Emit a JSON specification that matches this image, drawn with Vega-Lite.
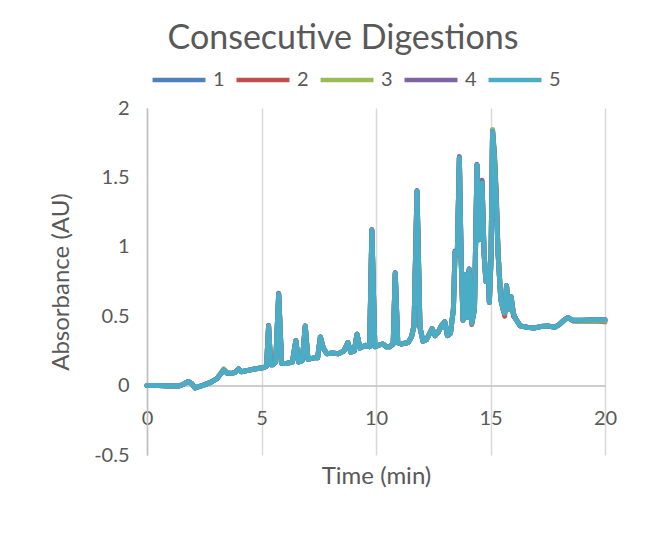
{
  "$schema": "https://vega.github.io/schema/vega-lite/v6.json",
  "width": 458,
  "height": 347,
  "autosize": "none",
  "padding": {"left": 147, "top": 108, "right": 42, "bottom": 81},
  "background": "white",
  "title": {
    "text": "Consecutive Digestions",
    "fontSize": 34,
    "fontWeight": "normal",
    "color": "#595959",
    "baseline": "alphabetic",
    "dx": -33,
    "dy": 52,
    "offset": 20
  },
  "data": {
    "values": [
      {"t": 0, "1": 0, "2": 0, "3": 0, "4": 0, "5": 0},
      {"t": 0.5, "1": 0, "2": 0, "3": 0, "4": 0, "5": 0},
      {"t": 1.0, "1": -0.002, "2": -0.002, "3": -0.002, "4": -0.002, "5": -0.002},
      {"t": 1.4, "1": -0.003, "2": -0.003, "3": -0.003, "4": -0.003, "5": -0.003},
      {"t": 1.6, "1": 0.01, "2": 0.01, "3": 0.01, "4": 0.01, "5": 0.01},
      {"t": 1.8, "1": 0.03, "2": 0.03, "3": 0.03, "4": 0.03, "5": 0.03},
      {"t": 1.95, "1": 0.015, "2": 0.015, "3": 0.015, "4": 0.015, "5": 0.015},
      {"t": 2.1, "1": -0.017, "2": -0.017, "3": -0.017, "4": -0.017, "5": -0.017},
      {"t": 2.3, "1": -0.005, "2": -0.005, "3": -0.005, "4": -0.005, "5": -0.005},
      {"t": 2.5, "1": 0.005, "2": 0.005, "3": 0.005, "4": 0.005, "5": 0.005},
      {"t": 2.8, "1": 0.025, "2": 0.025, "3": 0.025, "4": 0.025, "5": 0.025},
      {"t": 3.05, "1": 0.05, "2": 0.05, "3": 0.05, "4": 0.05, "5": 0.05},
      {"t": 3.2, "1": 0.08, "2": 0.08, "3": 0.085, "4": 0.08, "5": 0.08},
      {"t": 3.35, "1": 0.113, "2": 0.113, "3": 0.12, "4": 0.113, "5": 0.113},
      {"t": 3.5, "1": 0.09, "2": 0.09, "3": 0.092, "4": 0.09, "5": 0.09},
      {"t": 3.7, "1": 0.088, "2": 0.088, "3": 0.088, "4": 0.088, "5": 0.088},
      {"t": 3.85, "1": 0.095, "2": 0.095, "3": 0.095, "4": 0.095, "5": 0.095},
      {"t": 4.0, "1": 0.12, "2": 0.12, "3": 0.12, "4": 0.12, "5": 0.12},
      {"t": 4.12, "1": 0.1, "2": 0.1, "3": 0.1, "4": 0.1, "5": 0.1},
      {"t": 4.4, "1": 0.11, "2": 0.11, "3": 0.11, "4": 0.11, "5": 0.11},
      {"t": 4.7, "1": 0.12, "2": 0.12, "3": 0.12, "4": 0.12, "5": 0.12},
      {"t": 5.1, "1": 0.13, "2": 0.13, "3": 0.13, "4": 0.13, "5": 0.13},
      {"t": 5.22, "1": 0.14, "2": 0.14, "3": 0.14, "4": 0.14, "5": 0.14},
      {"t": 5.31, "1": 0.43, "2": 0.43, "3": 0.43, "4": 0.435, "5": 0.43},
      {"t": 5.4, "1": 0.15, "2": 0.15, "3": 0.15, "4": 0.15, "5": 0.15},
      {"t": 5.5, "1": 0.15, "2": 0.15, "3": 0.15, "4": 0.15, "5": 0.15},
      {"t": 5.62, "1": 0.17, "2": 0.17, "3": 0.17, "4": 0.17, "5": 0.17},
      {"t": 5.75, "1": 0.66, "2": 0.66, "3": 0.66, "4": 0.665, "5": 0.66},
      {"t": 5.88, "1": 0.16, "2": 0.16, "3": 0.16, "4": 0.16, "5": 0.16},
      {"t": 6.1, "1": 0.16, "2": 0.16, "3": 0.16, "4": 0.16, "5": 0.16},
      {"t": 6.35, "1": 0.17, "2": 0.17, "3": 0.17, "4": 0.17, "5": 0.17},
      {"t": 6.5, "1": 0.325, "2": 0.325, "3": 0.325, "4": 0.325, "5": 0.325},
      {"t": 6.62, "1": 0.17, "2": 0.17, "3": 0.17, "4": 0.17, "5": 0.17},
      {"t": 6.78, "1": 0.18, "2": 0.18, "3": 0.18, "4": 0.18, "5": 0.18},
      {"t": 6.91, "1": 0.43, "2": 0.43, "3": 0.43, "4": 0.43, "5": 0.43},
      {"t": 7.03, "1": 0.19, "2": 0.19, "3": 0.19, "4": 0.19, "5": 0.19},
      {"t": 7.3, "1": 0.2, "2": 0.2, "3": 0.2, "4": 0.2, "5": 0.2},
      {"t": 7.45, "1": 0.2, "2": 0.2, "3": 0.2, "4": 0.2, "5": 0.2},
      {"t": 7.57, "1": 0.35, "2": 0.35, "3": 0.35, "4": 0.35, "5": 0.35},
      {"t": 7.7, "1": 0.27, "2": 0.27, "3": 0.27, "4": 0.27, "5": 0.27},
      {"t": 7.85, "1": 0.23, "2": 0.23, "3": 0.23, "4": 0.23, "5": 0.23},
      {"t": 8.1, "1": 0.235, "2": 0.235, "3": 0.235, "4": 0.235, "5": 0.235},
      {"t": 8.35, "1": 0.23, "2": 0.23, "3": 0.23, "4": 0.23, "5": 0.23},
      {"t": 8.6, "1": 0.25, "2": 0.25, "3": 0.25, "4": 0.25, "5": 0.25},
      {"t": 8.77, "1": 0.31, "2": 0.31, "3": 0.31, "4": 0.31, "5": 0.31},
      {"t": 8.9, "1": 0.24, "2": 0.24, "3": 0.24, "4": 0.24, "5": 0.24},
      {"t": 9.05, "1": 0.25, "2": 0.25, "3": 0.25, "4": 0.25, "5": 0.25},
      {"t": 9.17, "1": 0.37, "2": 0.37, "3": 0.37, "4": 0.37, "5": 0.37},
      {"t": 9.3, "1": 0.27, "2": 0.27, "3": 0.27, "4": 0.27, "5": 0.27},
      {"t": 9.55, "1": 0.29, "2": 0.29, "3": 0.29, "4": 0.29, "5": 0.29},
      {"t": 9.72, "1": 0.28, "2": 0.28, "3": 0.28, "4": 0.28, "5": 0.28},
      {"t": 9.82, "1": 1.12, "2": 1.12, "3": 1.12, "4": 1.125, "5": 1.12},
      {"t": 9.95, "1": 0.28, "2": 0.28, "3": 0.28, "4": 0.28, "5": 0.28},
      {"t": 10.1, "1": 0.29, "2": 0.29, "3": 0.29, "4": 0.29, "5": 0.29},
      {"t": 10.3, "1": 0.3, "2": 0.3, "3": 0.3, "4": 0.3, "5": 0.3},
      {"t": 10.45, "1": 0.28, "2": 0.28, "3": 0.28, "4": 0.28, "5": 0.28},
      {"t": 10.6, "1": 0.28, "2": 0.28, "3": 0.28, "4": 0.28, "5": 0.28},
      {"t": 10.75, "1": 0.3, "2": 0.3, "3": 0.3, "4": 0.3, "5": 0.3},
      {"t": 10.84, "1": 0.81, "2": 0.81, "3": 0.81, "4": 0.815, "5": 0.81},
      {"t": 10.95, "1": 0.31, "2": 0.31, "3": 0.31, "4": 0.31, "5": 0.31},
      {"t": 11.1, "1": 0.3, "2": 0.3, "3": 0.3, "4": 0.3, "5": 0.3},
      {"t": 11.4, "1": 0.31, "2": 0.31, "3": 0.31, "4": 0.31, "5": 0.31},
      {"t": 11.55, "1": 0.35, "2": 0.35, "3": 0.35, "4": 0.35, "5": 0.35},
      {"t": 11.66, "1": 0.43, "2": 0.43, "3": 0.43, "4": 0.43, "5": 0.43},
      {"t": 11.79, "1": 1.4, "2": 1.4, "3": 1.4, "4": 1.405, "5": 1.4},
      {"t": 11.92, "1": 0.42, "2": 0.42, "3": 0.42, "4": 0.42, "5": 0.42},
      {"t": 12.05, "1": 0.32, "2": 0.32, "3": 0.32, "4": 0.32, "5": 0.32},
      {"t": 12.2, "1": 0.33, "2": 0.33, "3": 0.33, "4": 0.33, "5": 0.33},
      {"t": 12.45, "1": 0.41, "2": 0.41, "3": 0.41, "4": 0.41, "5": 0.41},
      {"t": 12.58, "1": 0.36, "2": 0.36, "3": 0.36, "4": 0.36, "5": 0.36},
      {"t": 12.7, "1": 0.38, "2": 0.38, "3": 0.38, "4": 0.38, "5": 0.38},
      {"t": 12.85, "1": 0.43, "2": 0.43, "3": 0.43, "4": 0.43, "5": 0.43},
      {"t": 13.0, "1": 0.46, "2": 0.46, "3": 0.46, "4": 0.46, "5": 0.46},
      {"t": 13.12, "1": 0.36, "2": 0.36, "3": 0.36, "4": 0.36, "5": 0.36},
      {"t": 13.25, "1": 0.375, "2": 0.375, "3": 0.375, "4": 0.375, "5": 0.375},
      {"t": 13.38, "1": 0.55, "2": 0.55, "3": 0.55, "4": 0.55, "5": 0.55},
      {"t": 13.45, "1": 0.96, "2": 0.96, "3": 0.96, "4": 0.97, "5": 0.96},
      {"t": 13.55, "1": 0.95, "2": 0.95, "3": 0.95, "4": 0.95, "5": 0.95},
      {"t": 13.64, "1": 1.64, "2": 1.64, "3": 1.64, "4": 1.65, "5": 1.64},
      {"t": 13.72, "1": 0.9, "2": 0.9, "3": 0.9, "4": 0.9, "5": 0.9},
      {"t": 13.8, "1": 0.47, "2": 0.47, "3": 0.47, "4": 0.47, "5": 0.47},
      {"t": 13.9, "1": 0.8, "2": 0.8, "3": 0.8, "4": 0.8, "5": 0.8},
      {"t": 13.98, "1": 0.49, "2": 0.49, "3": 0.49, "4": 0.49, "5": 0.49},
      {"t": 14.07, "1": 0.84, "2": 0.84, "3": 0.84, "4": 0.84, "5": 0.84},
      {"t": 14.18, "1": 0.45, "2": 0.44, "3": 0.45, "4": 0.45, "5": 0.45},
      {"t": 14.3, "1": 0.55, "2": 0.55, "3": 0.55, "4": 0.55, "5": 0.55},
      {"t": 14.41, "1": 1.59, "2": 1.59, "3": 1.59, "4": 1.595, "5": 1.59},
      {"t": 14.5, "1": 1.05, "2": 1.05, "3": 1.05, "4": 1.05, "5": 1.05},
      {"t": 14.56, "1": 1.2, "2": 1.2, "3": 1.2, "4": 1.2, "5": 1.2},
      {"t": 14.63, "1": 1.46, "2": 1.47, "3": 1.46, "4": 1.48, "5": 1.46},
      {"t": 14.72, "1": 0.95, "2": 0.95, "3": 0.95, "4": 0.95, "5": 0.95},
      {"t": 14.8, "1": 0.75, "2": 0.75, "3": 0.75, "4": 0.75, "5": 0.75},
      {"t": 14.88, "1": 0.85, "2": 0.85, "3": 0.85, "4": 0.85, "5": 0.85},
      {"t": 14.95, "1": 0.6, "2": 0.6, "3": 0.6, "4": 0.6, "5": 0.6},
      {"t": 15.02, "1": 0.9, "2": 0.9, "3": 0.9, "4": 0.9, "5": 0.9},
      {"t": 15.09, "1": 1.83, "2": 1.84, "3": 1.845, "4": 1.83, "5": 1.83},
      {"t": 15.17, "1": 1.65, "2": 1.68, "3": 1.66, "4": 1.65, "5": 1.65},
      {"t": 15.25, "1": 1.35, "2": 1.4, "3": 1.36, "4": 1.35, "5": 1.35},
      {"t": 15.33, "1": 0.95, "2": 0.97, "3": 0.95, "4": 0.95, "5": 0.95},
      {"t": 15.45, "1": 0.62, "2": 0.62, "3": 0.62, "4": 0.62, "5": 0.62},
      {"t": 15.55, "1": 0.55, "2": 0.55, "3": 0.55, "4": 0.55, "5": 0.55},
      {"t": 15.62, "1": 0.52, "2": 0.5, "3": 0.52, "4": 0.52, "5": 0.52},
      {"t": 15.7, "1": 0.72, "2": 0.72, "3": 0.72, "4": 0.72, "5": 0.72},
      {"t": 15.78, "1": 0.56, "2": 0.56, "3": 0.56, "4": 0.56, "5": 0.56},
      {"t": 15.85, "1": 0.55, "2": 0.55, "3": 0.55, "4": 0.55, "5": 0.55},
      {"t": 15.9, "1": 0.64, "2": 0.64, "3": 0.64, "4": 0.64, "5": 0.64},
      {"t": 16.0, "1": 0.52, "2": 0.5, "3": 0.52, "4": 0.52, "5": 0.52},
      {"t": 16.1, "1": 0.48, "2": 0.48, "3": 0.48, "4": 0.48, "5": 0.48},
      {"t": 16.3, "1": 0.43, "2": 0.43, "3": 0.43, "4": 0.43, "5": 0.43},
      {"t": 16.6, "1": 0.42, "2": 0.42, "3": 0.42, "4": 0.42, "5": 0.42},
      {"t": 16.9, "1": 0.415, "2": 0.415, "3": 0.415, "4": 0.415, "5": 0.415},
      {"t": 17.2, "1": 0.425, "2": 0.425, "3": 0.425, "4": 0.425, "5": 0.425},
      {"t": 17.5, "1": 0.43, "2": 0.43, "3": 0.43, "4": 0.43, "5": 0.43},
      {"t": 17.8, "1": 0.42, "2": 0.42, "3": 0.42, "4": 0.42, "5": 0.42},
      {"t": 18.0, "1": 0.44, "2": 0.44, "3": 0.44, "4": 0.44, "5": 0.44},
      {"t": 18.2, "1": 0.47, "2": 0.47, "3": 0.47, "4": 0.47, "5": 0.47},
      {"t": 18.38, "1": 0.49, "2": 0.49, "3": 0.49, "4": 0.49, "5": 0.49},
      {"t": 18.6, "1": 0.47, "2": 0.465, "3": 0.468, "4": 0.47, "5": 0.47},
      {"t": 19.0, "1": 0.47, "2": 0.462, "3": 0.462, "4": 0.47, "5": 0.47},
      {"t": 19.5, "1": 0.475, "2": 0.465, "3": 0.465, "4": 0.475, "5": 0.475},
      {"t": 20.0, "1": 0.475, "2": 0.46, "3": 0.465, "4": 0.475, "5": 0.475}
    ]
  },
  "transform": [
    {"fold": ["1", "2", "3", "4", "5"], "as": ["series", "absorbance"]}
  ],
  "mark": {
    "type": "line",
    "strokeWidth": 5,
    "strokeJoin": "round",
    "strokeCap": "round",
    "clip": false
  },
  "encoding": {
    "x": {
      "field": "t",
      "type": "quantitative",
      "title": "Time (min)",
      "scale": {"domain": [0, 20], "nice": false, "zero": false},
      "axis": {
        "values": [0, 5, 10, 15, 20],
        "offset": -69.4,
        "grid": true,
        "gridColor": "#D9D9D9",
        "gridWidth": 1.5,
        "domainColor": "#BFBFBF",
        "domainWidth": 1.5,
        "ticks": false,
        "labelPadding": 23,
        "labelFlush": false,
        "labelExpr": "'' + datum.value",
        "titlePadding": 36
      }
    },
    "y": {
      "field": "absorbance",
      "type": "quantitative",
      "title": "Absorbance (AU)",
      "scale": {"domain": [-0.5, 2], "nice": false, "zero": false},
      "axis": {
        "values": [-0.5, 0, 0.5, 1, 1.5, 2],
        "grid": false,
        "ticks": false,
        "domainColor": "#BFBFBF",
        "domainWidth": 1.5,
        "labelPadding": 18,
        "labelExpr": "'' + datum.value",
        "titlePadding": 20
      }
    },
    "color": {
      "field": "series",
      "type": "nominal",
      "scale": {
        "domain": ["1", "2", "3", "4", "5"],
        "range": ["#4F81BD", "#C0504D", "#9BBB59", "#8064A2", "#4BACC6"]
      },
      "legend": {
        "title": null,
        "orient": "none",
        "direction": "horizontal",
        "legendX": 3,
        "legendY": -57,
        "symbolType": "stroke",
        "symbolSize": 2800,
        "symbolStrokeWidth": 4.5,
        "labelFontSize": 20,
        "labelColor": "#595959",
        "labelOffset": 5,
        "columnPadding": 2,
        "padding": 0
      }
    }
  },
  "config": {
    "font": "Lato",
    "view": {"stroke": null},
    "axis": {
      "labelFont": "Lato",
      "labelFontSize": 20,
      "labelColor": "#595959",
      "titleFont": "Lato",
      "titleFontSize": 24,
      "titleFontWeight": "normal",
      "titleColor": "#595959"
    },
    "legend": {"labelFont": "Lato"}
  }
}
